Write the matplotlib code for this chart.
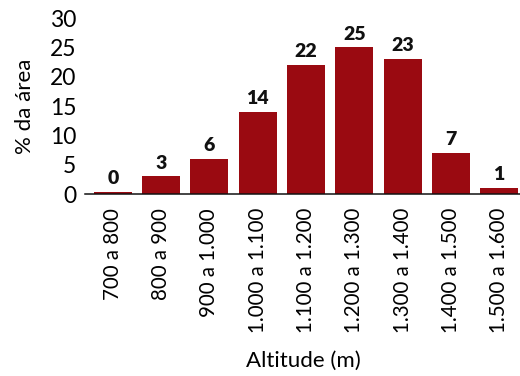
import numpy as np
import matplotlib as mpl
from matplotlib import pyplot as plt

# Font defaults
mpl.rc('font', family=['Lato', 'DejaVu Sans'])

# Share of area per altitude band
faixas = ["700 a 800", "800 a 900", "900 a 1.000", "1.000 a 1.100", "1.100 a 1.200",
          "1.200 a 1.300", "1.300 a 1.400", "1.400 a 1.500", "1.500 a 1.600"]
area_pct = [0.4, 3, 6, 14, 22, 25, 23, 7, 1]
y_ticks = [0, 5, 10, 15, 20, 25, 30]

bar_color = '#9a0a11'

fig = plt.figure(figsize=(5.2, 3.76), dpi=100)
ax = fig.add_axes([0.163, 0.484, 0.837, 0.468])

x = np.arange(len(faixas))
bars = ax.bar(x, area_pct, width=0.79, color=bar_color)

# Value labels above each bar
for xi, v in zip(x, area_pct):
    ax.annotate(f"{v:.0f}", (xi, v), xytext=(0, 3.5), textcoords='offset points',
                ha='center', va='bottom', fontsize=14, fontweight='heavy', color='#111111')

ax.set_xlim(-0.58, 8.43)
ax.set_ylim(0, 30)
ax.set_yticks(y_ticks)
ax.set_xticks(x)
ax.set_xticklabels(faixas, rotation=90, fontsize=14.8)
ax.tick_params(axis='y', labelsize=16.5, length=0, pad=6)
ax.tick_params(axis='x', length=0, pad=10)

for side in ['top', 'right', 'left']:
    ax.spines[side].set_visible(False)
ax.spines['bottom'].set_linewidth(1.1)
ax.spines['bottom'].set_color('#111111')

ax.set_ylabel("% da área", fontsize=16, labelpad=11)
fig.text(0.583, 0.04, "Altitude (m)", ha='center', va='center', fontsize=16)

fig.savefig("out.png", dpi=100)
